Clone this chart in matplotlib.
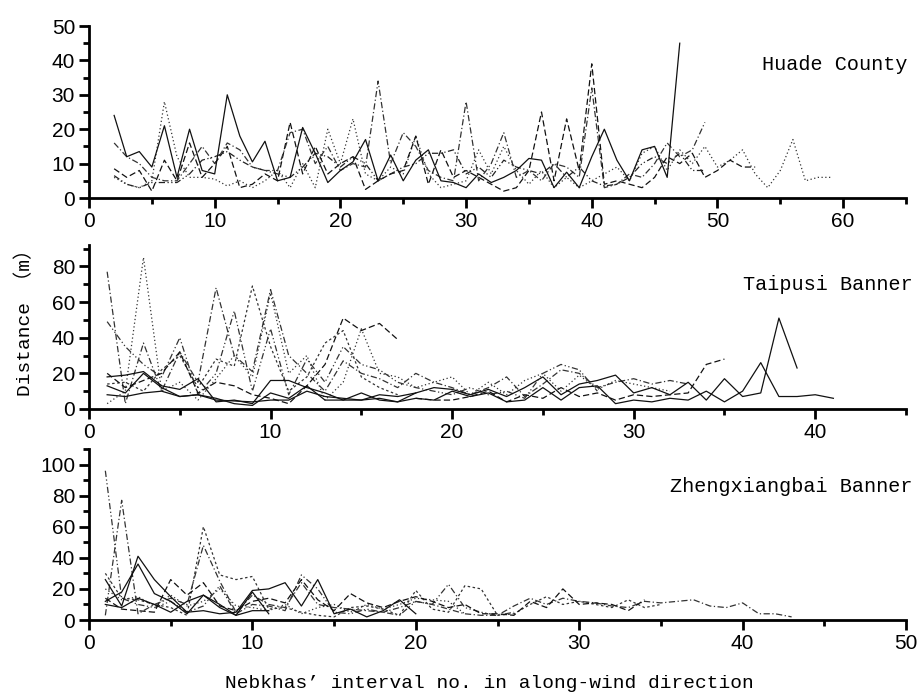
import matplotlib
matplotlib.use("Agg")
import matplotlib.pyplot as plt
from matplotlib.ticker import MultipleLocator

# ---------------- data ----------------
# Huade County
h_solid_x = list(range(2, 48))
h_solid = [24, 12, 13.5, 9, 21, 6, 20, 8, 7, 30, 18, 10.5, 16.5, 5, 6, 20.5, 13, 4.5, 8, 10.5,
           17, 5, 12.5, 5, 11, 14, 5, 4.5, 3, 7, 4.5, 6, 8, 11.5, 11, 3, 7.5, 3, 12, 20,
           11, 5, 14, 15, 6, 45]
h_dot_x = list(range(2, 60))
h_dot = [6, 4, 3, 5, 28, 12, 6, 6, 5.5, 3.5, 5, 3, 5, 8, 3, 10, 3, 20, 10, 23,
         7, 5, 9, 7, 18, 7, 3, 4, 5, 14, 7, 15, 8, 4, 8, 3, 6, 3, 5, 7,
         9, 5, 13, 15, 8, 14, 10, 15, 9, 11, 14, 7, 3, 8, 17, 5, 6, 6]
h_dash_x = list(range(2, 54))
h_dash = [8.5, 6, 8, 2, 11, 5, 16, 6, 10, 15, 3, 4, 7, 5, 22, 7, 15, 7, 10, 12,
          2.5, 5, 7, 8, 18, 4, 14, 6, 8, 6, 4, 2, 3, 8, 25, 5, 23, 8, 39, 4,
          5, 4, 3, 6, 12, 10, 13, 6, 8, 11, 9, 9]
h_dashdot_x = list(range(2, 50))
h_dashdot = [16, 12, 10, 6, 5, 5, 10, 15, 10, 16, 14, 9, 8, 8, 19, 20, 10, 15, 8, 10,
             9, 34, 10, 19, 15, 8, 6, 5, 28, 5, 10, 19, 6, 8, 5, 10, 9, 6, 32, 3,
             4, 7, 6, 10, 16, 12, 14, 22]
h_dd_x = list(range(2, 50))
h_dd = [6.5, 4, 3, 4.5, 4.5, 4.5, 7, 11, 12, 13.5, 11, 9, 8, 7, 6, 9, 13, 12, 9, 12,
        10, 5, 7, 9, 10, 13, 13, 14, 7, 9, 6, 11, 9, 8, 7, 10, 6, 9, 5, 3.5,
        4, 6, 10, 12, 10, 13, 8, 8]

# Taipusi Banner
t_s1_x = list(range(1, 42))
t_s1 = [13, 9, 20, 12, 7, 8, 5, 4.5, 4, 5, 5, 10, 7, 6, 5, 6, 4, 6, 5, 10,
        7, 9, 4, 5, 12, 5, 12, 13, 3, 5, 4, 6, 5, 10, 4, 10, 26, 7, 7, 8, 6]
t_s2_x = list(range(1, 40))
t_s2 = [18, 19, 21, 13, 11, 17, 4, 5, 3, 16, 16, 12, 9, 5, 5, 8, 7, 9, 12, 11,
        8, 11, 7, 12, 18, 8, 14, 16, 19, 9, 12, 8, 15, 5, 17, 7, 9, 51, 23]
t_s3_x = list(range(1, 19))
t_s3 = [8, 7, 9, 10, 7, 8, 6, 3, 2, 9, 6, 13, 5, 5, 9, 5, 4, 9]
t_d1_x = list(range(1, 18))
t_d1 = [20, 12, 16, 20, 32, 9, 15, 13, 8, 6, 3, 13, 25, 51, 44, 48, 39]
t_d2_x = list(range(18, 36))
t_d2 = [6, 5, 5, 7, 10, 4, 8, 6, 12, 7, 9, 5, 8, 7, 8, 9, 25, 28]
t_dot1_x = list(range(1, 33))
t_dot1 = [3, 10, 85, 10, 15, 5, 17, 30, 18, 65, 20, 30, 5, 15, 45, 20, 18, 12, 15, 18,
          8, 15, 8, 16, 20, 10, 19, 11, 16, 14, 12, 10]
t_dd1_x = list(range(1, 34))
t_dd1 = [77, 3, 37, 10, 32, 15, 68, 30, 21, 67, 30, 20, 10, 27, 20, 17, 12, 20, 15, 12,
         8, 12, 18, 7, 14, 22, 20, 12, 15, 17, 14, 16, 14]
t_dd2_x = list(range(1, 29))
t_dd2 = [49, 35, 25, 18, 40, 8, 20, 55, 10, 45, 8, 28, 15, 35, 25, 22, 15, 12, 10, 8,
         12, 8, 10, 6, 20, 25, 22, 10]
t_dot2_x = list(range(1, 18))
t_dot2 = [14, 15, 10, 22, 30, 12, 28, 24, 69, 35, 10, 18, 37, 44, 18, 12, 8]

# Zhengxiangbai Banner
z_s1_x = list(range(1, 21))
z_s1 = [26, 9, 41, 26, 15, 5, 6, 4, 5, 19, 20, 24, 9, 26, 4, 7, 2, 6, 13, 4]
z_s2_x = list(range(1, 12))
z_s2 = [12, 18, 36, 17, 12, 4, 16, 10, 3, 6, 6]
z_s3_x = list(range(1, 12))
z_s3 = [10, 8, 14, 10, 5, 12, 16, 8, 3, 18, 4]
z_dd1_x = list(range(1, 27))
z_dd1 = [96, 14, 10, 8, 12, 5, 9, 22, 4, 10, 9, 6, 29, 20, 5, 4, 7, 5, 3, 12,
         10, 23, 8, 5, 3, 5]
z_dd2_x = list(range(1, 44))
z_dd2 = [3, 77, 4, 10, 14, 10, 48, 25, 5, 16, 10, 8, 24, 10, 8, 7, 6, 5, 8, 12,
         10, 7, 4, 3, 3, 9, 14, 10, 14, 12, 11, 9, 8, 12, 11, 12, 13, 9, 8, 11,
         4, 4, 2]
z_dot1_x = list(range(1, 36))
z_dot1 = [30, 14, 13, 10, 8, 3, 60, 29, 26, 28, 7, 8, 5, 3, 2, 8, 9, 7, 3, 19,
          7, 5, 22, 20, 3, 4, 10, 15, 10, 12, 10, 8, 13, 8, 10]
z_dash_x = list(range(1, 35))
z_dash = [14, 7, 6, 5, 26, 16, 24, 9, 6, 12, 14, 11, 26, 13, 6, 17, 11, 8, 12, 15,
          12, 8, 10, 4, 4, 3, 12, 8, 20, 10, 11, 10, 6, 13]
z_dot2_x = list(range(1, 24))
z_dot2 = [20, 13, 15, 9, 16, 9, 12, 20, 9, 8, 6, 10, 4, 8, 10, 5, 10, 7, 10, 14,
          13, 12, 4]

panel_titles = ["Huade County", "Taipusi Banner", "Zhengxiangbai Banner"]
x_label = "Nebkhas’ interval no. in along-wind direction"
y_label = "Distance （m）"

# ---------------- styles ----------------
SOLID = '-'
DOT = (0, (1, 2))
DASH = (0, (5, 2.5))
DASHDOT = (0, (5, 2, 1, 2))
DDOT = (0, (5, 2, 1, 2, 1, 2))
SDASH = (0, (2, 2))

serif = ['Liberation Mono', 'DejaVu Sans Mono']
sans = ['Liberation Sans', 'DejaVu Sans']

W, H = 919, 700
fig = plt.figure(figsize=(W / 100, H / 100), dpi=100)

def rect(l, r, t, b):
    return [l / W, 1 - b / H, (r - l) / W, (b - t) / H]

ax1 = fig.add_axes(rect(89, 906, 26, 198))
ax2 = fig.add_axes(rect(89, 906, 245, 409))
ax3 = fig.add_axes(rect(89, 906, 449, 620))

lw = 0.9
col = '#111111'

def draw(ax, xs, ys, ls, c=col):
    ax.plot(xs, ys, linestyle=ls, color=c, linewidth=lw)

draw(ax1, h_dot_x, h_dot, DOT, '#333333')
draw(ax1, h_dash_x, h_dash, DASH)
draw(ax1, h_dashdot_x, h_dashdot, DASHDOT, '#333333')
draw(ax1, h_dd_x, h_dd, DDOT, '#222222')
draw(ax1, h_solid_x, h_solid, SOLID)

draw(ax2, t_dot1_x, t_dot1, DOT, '#333333')
draw(ax2, t_dot2_x, t_dot2, SDASH, '#333333')
draw(ax2, t_dd1_x, t_dd1, DASHDOT, '#333333')
draw(ax2, t_dd2_x, t_dd2, DDOT, '#333333')
draw(ax2, t_d1_x, t_d1, DASH)
draw(ax2, t_d2_x, t_d2, DASH)
draw(ax2, t_s3_x, t_s3, SOLID)
draw(ax2, t_s1_x, t_s1, SOLID)
draw(ax2, t_s2_x, t_s2, SOLID)

draw(ax3, z_dot1_x, z_dot1, SDASH, '#333333')
draw(ax3, z_dot2_x, z_dot2, DOT, '#333333')
draw(ax3, z_dd1_x, z_dd1, DDOT, '#333333')
draw(ax3, z_dd2_x, z_dd2, DASHDOT, '#333333')
draw(ax3, z_dash_x, z_dash, DASH)
draw(ax3, z_s3_x, z_s3, SOLID)
draw(ax3, z_s2_x, z_s2, SOLID)
draw(ax3, z_s1_x, z_s1, SOLID)

cfg = [
    (ax1, 65, 50, 10, 5),
    (ax2, 45, 92, 20, 10),
    (ax3, 50, 110, 20, 10),
]
for ax, xmax, ymax, ymaj, ymin in cfg:
    ax.set_xlim(0, xmax)
    ax.set_ylim(0, ymax)
    ax.xaxis.set_major_locator(MultipleLocator(10))
    ax.xaxis.set_minor_locator(MultipleLocator(5))
    ax.yaxis.set_major_locator(MultipleLocator(ymaj))
    ax.yaxis.set_minor_locator(MultipleLocator(ymin))
    for s in ['top', 'right']:
        ax.spines[s].set_visible(False)
    for s in ['left', 'bottom']:
        ax.spines[s].set_linewidth(2)
    ax.tick_params(which='major', direction='out', length=7, width=2, labelsize=15, pad=3)
    ax.tick_params(which='minor', direction='out', length=4, width=2)
    for lab in ax.get_xticklabels() + ax.get_yticklabels():
        lab.set_family(sans)
    ax.patch.set_alpha(0)

ax2.set_ylim(0, 92)
ax2.set_yticks([0, 20, 40, 60, 80])

fig.text(908 / W, 1 - 65 / H, panel_titles[0], ha='right', va='center', family=serif, fontsize=14.5)
fig.text(913 / W, 1 - 285 / H, panel_titles[1], ha='right', va='center', family=serif, fontsize=14.5)
fig.text(913 / W, 1 - 486 / H, panel_titles[2], ha='right', va='center', family=serif, fontsize=14.5)
fig.text(25 / W, 1 - 318 / H, y_label, rotation=90, ha='center', va='center',
         family=['Liberation Mono', 'Noto Sans CJK SC'], fontsize=14)
fig.text(489 / W, 1 - 683 / H, x_label, ha='center', va='center', family=serif, fontsize=14)

fig.savefig("out.png", dpi=100)
